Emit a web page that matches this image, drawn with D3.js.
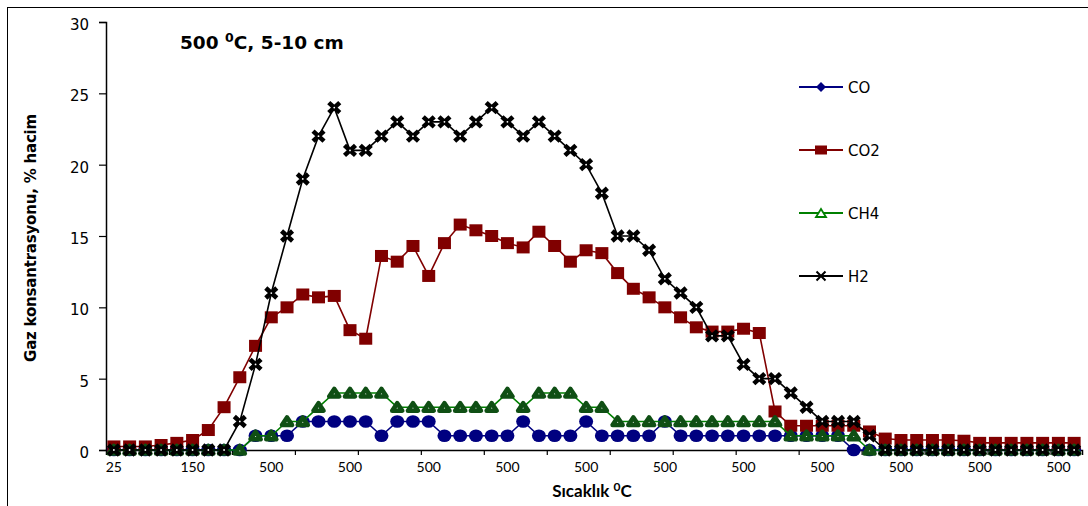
<!DOCTYPE html>
<html><head><meta charset="utf-8">
<script src="https://cdn.jsdelivr.net/npm/d3@7"></script>
<style>
html,body{margin:0;padding:0;background:#fff;}
svg{display:block;}
</style></head>
<body>
<svg id="chart" width="1088" height="506"></svg>
<script>
// ---- data ----
const categories = Array.from({length: 62}, (_, i) => i + 1);
const tickLabels = ["25","150","500","500","500","500","500","500","500","500","500","500","500"];
const yTicks = [0,5,10,15,20,25,30];
const seriesNames = ["CO","CO2","CH4","H2"];
const CO = [0,0,0,0,0,0,0,0,0,1, 1,1,2,2,2,2,2,1,2,2, 2,1,1,1,1,1,2,1,1,1, 2,1,1,1,1,2,1,1,1,1, 1,1,1,1,1,1,1,0,0,0, 0,0,0,0,0,0,0,0,0,0, 0,0];
const CO2 = [0.25,0.25,0.25,0.35,0.5,0.7,1.4,3.0,5.1,7.3, 9.3,10.0,10.9,10.7,10.8,8.4,7.8,13.6,13.2,14.3, 12.2,14.5,15.8,15.4,15.0,14.5,14.2,15.3,14.3,13.2, 14.0,13.8,12.4,11.3,10.7,10.0,9.3,8.6,8.3,8.3, 8.5,8.2,2.7,1.7,1.7,1.7,1.7,1.7,1.3,0.8, 0.7,0.7,0.7,0.7,0.65,0.5,0.5,0.5,0.5,0.5, 0.5,0.5];
const CH4 = [0,0,0,0,0,0,0,0,0,1, 1,2,2,3,4,4,4,4,3,3, 3,3,3,3,3,4,3,4,4,4, 3,3,2,2,2,2,2,2,2,2, 2,2,2,1,1,1,1,1,0,0, 0,0,0,0,0,0,0,0,0,0, 0,0];
const H2 = [0,0,0,0,0,0,0,0,2,6, 11,15,19,22,24,21,21,22,23,22, 23,23,22,23,24,23,22,23,22,21, 20,18,15,15,14,12,11,10,8,8, 6,5,5,4,3,2,2,2,1,0, 0,0,0,0,0,0,0,0,0,0, 0,0];

// ---- layout ----
const svg = d3.select("#chart");
const L = 106, R = 1082, T = 22, B = 450;
const x = d3.scaleBand().domain(categories).range([L, R]).padding(0);
const xl = d3.scaleLinear().domain([0, categories.length]).range([L, R]);
const y = d3.scaleLinear().domain([0, 30]).range([B, T]);
const cx = d => x(d) + x.bandwidth() / 2;

svg.append("rect").attr("x",0).attr("y",0).attr("width",1088).attr("height",506).attr("fill","#fff");
svg.append("rect").attr("x",7.5).attr("y",7.5).attr("width",1100).attr("height",520)
  .attr("fill","none").attr("stroke","#000").attr("stroke-width",1);

// y axis
const yAxis = svg.append("g").attr("transform",`translate(${L},0)`)
  .call(d3.axisLeft(y).tickValues(yTicks).tickSize(7).tickPadding(10));
yAxis.select(".domain").attr("stroke","#000").attr("stroke-width",1.5);
yAxis.selectAll(".tick line").attr("stroke","#000").attr("stroke-width",1.2);
yAxis.selectAll(".tick text").attr("font-family","DejaVu Sans, Verdana, sans-serif").attr("font-size",15)
  .attr("dy","0.5em").attr("fill","#000");

// x axis: ticks every 4 categories at boundaries
const xTickAxis = svg.append("g").attr("transform",`translate(0,${B})`)
  .call(d3.axisBottom(xl).tickValues(d3.range(4, categories.length, 4)).tickSize(5).tickFormat(""));
xTickAxis.select(".domain").attr("stroke","#000").attr("stroke-width",1.5);
xTickAxis.selectAll(".tick line").attr("stroke","#000").attr("stroke-width",1.2);

// x labels every 5 categories
const labelCats = categories.filter((d,i) => i % 5 === 0);
const xLab = svg.append("g").attr("transform",`translate(0,${B})`)
  .call(d3.axisBottom(x).tickValues(labelCats).tickSize(0).tickPadding(12)
    .tickFormat((d,i) => tickLabels[i]));
xLab.select(".domain").remove();
xLab.selectAll(".tick text").attr("font-family","Lato, Carlito, sans-serif").attr("font-size",14).attr("fill","#000");

// titles
const t = svg.append("text").attr("x",180).attr("y",49).attr("font-family","DejaVu Sans, Verdana, sans-serif")
  .attr("font-weight","bold").attr("font-size",18.5).attr("fill","#000");
t.append("tspan").text("500 ");
t.append("tspan").attr("font-size",12.5).attr("dy",-7).text("0");
t.append("tspan").attr("dy",7).text("C, 5-10 cm");

const xt = svg.append("text").attr("x",592).attr("y",497).attr("text-anchor","middle")
  .attr("font-family","Lato, sans-serif").attr("font-weight","bold").attr("font-size",17).attr("fill","#000");
xt.append("tspan").text("Sıcaklık ");
xt.append("tspan").attr("font-size",12).attr("dy",-6).text("0");
xt.append("tspan").attr("dy",6).text("C");

svg.append("text").attr("transform","translate(36,238) rotate(-90)").attr("text-anchor","middle")
  .attr("font-family","DejaVu Sans, sans-serif").attr("font-weight","bold").attr("font-size",15)
  .attr("letter-spacing",-0.2).attr("fill","#000").text("Gaz konsantrasyonu, % hacim");

// series
const series = [
  {name:"CO", data:CO, color:"#000080", marker:"circle"},
  {name:"CO2", data:CO2, color:"#800000", marker:"square"},
  {name:"CH4", data:CH4, color:"#008000", marker:"triangle"},
  {name:"H2", data:H2, color:"#000000", marker:"x"}
];
const line = d3.line().x((d,i) => cx(categories[i])).y(d => y(d));

function drawMarker(g, type, color, big) {
  if (type === "circle") {
    if (big) g.append("ellipse").attr("rx",7).attr("ry",6.3).attr("fill",color);
    else g.append("path").attr("d","M0,-5L5,0L0,5L-5,0Z").attr("fill",color);
  } else if (type === "square") {
    const w = big ? 13 : 12, h = big ? 12 : 9;
    g.append("rect").attr("x",-w/2).attr("y",-h/2).attr("width",w).attr("height",h).attr("fill",color);
  } else if (type === "triangle") {
    if (big) {
      g.append("path").attr("d","M0,-4L5,3.5L-5,3.5Z").attr("fill","#fff").attr("stroke","#0f4f14").attr("stroke-width",4.6).attr("stroke-linejoin","round");
    } else {
      g.append("path").attr("d","M0,-4L5,4L-5,4Z").attr("fill","#fff").attr("stroke",color).attr("stroke-width",1.8);
    }
  } else {
    if (big) {
      g.append("path").attr("d","M-5.5,-5L5.5,5M-5.5,5L5.5,-5").attr("stroke","#000").attr("stroke-width",4.6);
      g.append("circle").attr("r",0.9).attr("fill","#fff");
    } else {
      g.append("path").attr("d","M-4.5,-4.5L4.5,4.5M-4.5,4.5L4.5,-4.5").attr("stroke","#000").attr("stroke-width",2);
    }
  }
}

series.forEach(s => {
  const g = svg.append("g");
  g.append("path").datum(s.data).attr("d",line).attr("fill","none").attr("stroke",s.color).attr("stroke-width",1.6);
  g.selectAll("g.m").data(s.data).join("g").attr("class","m")
    .attr("transform",(d,i) => `translate(${cx(categories[i])},${y(d)})`)
    .each(function(){ drawMarker(d3.select(this), s.marker, s.color, true); });
});

// legend
const legY = [87, 150, 213, 276];
series.forEach((s, i) => {
  const g = svg.append("g").attr("transform",`translate(0,${legY[i]})`);
  g.append("line").attr("x1",799).attr("x2",843).attr("y1",0).attr("y2",0).attr("stroke",s.color).attr("stroke-width",1.8);
  const m = g.append("g").attr("transform","translate(821,0)");
  drawMarker(m, s.marker, s.color, false);
  g.append("text").attr("x",848).attr("y",5.5).attr("font-family","DejaVu Sans, Verdana, sans-serif")
    .attr("font-size",15).attr("fill","#000").text(s.name);
});
</script>
</body></html>
